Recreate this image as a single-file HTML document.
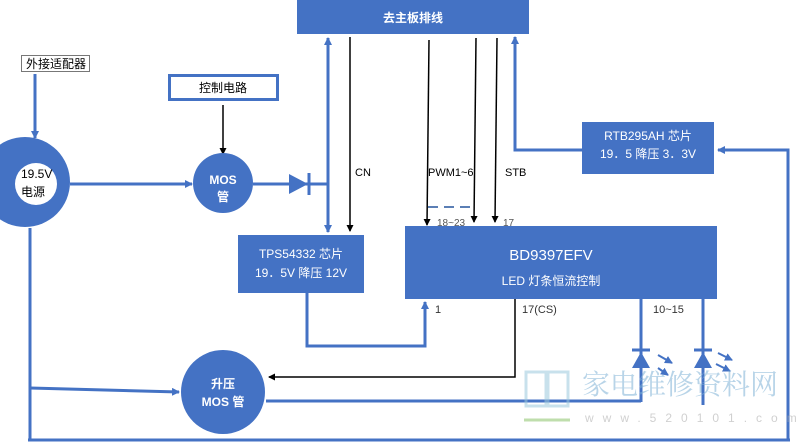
<!DOCTYPE html>
<html><head><meta charset="utf-8"><style>
body{margin:0;background:#fff;}
svg{display:block;font-family:"Liberation Sans","Noto Sans CJK SC",sans-serif;}
</style></head><body>
<svg width="800" height="445" viewBox="0 0 800 445" xmlns="http://www.w3.org/2000/svg">
<defs>
<marker id="ab" markerWidth="8" markerHeight="8" refX="7" refY="4" orient="auto" markerUnits="userSpaceOnUse"><path d="M0,0 L8,4 L0,8 z" fill="#4472C4"/></marker>
<marker id="ak" markerWidth="7" markerHeight="7" refX="6" refY="3.5" orient="auto" markerUnits="userSpaceOnUse"><path d="M0,0 L7,3.5 L0,7 z" fill="#000"/></marker>
</defs>
<g stroke="#4472C4" stroke-width="3" fill="none">
<!-- adapter to power -->
<line x1="35" y1="74" x2="35" y2="138" marker-end="url(#ab)"/>
<line x1="70" y1="184" x2="192" y2="184" marker-end="url(#ab)"/>
<line x1="253" y1="184" x2="328" y2="184"/>
<line x1="328" y1="232" x2="328" y2="38" marker-end="url(#ab)"/>
<line x1="328" y1="190" x2="328" y2="232" marker-end="url(#ab)"/>
<!-- TPS to pin1 -->
<polyline points="307,293 307,346 425,346 425,302" marker-end="url(#ab)"/>
<!-- STB 3.3V -->
<polyline points="583,150 515,150 515,37" marker-end="url(#ab)"/>
<polyline points="788,440 788,150 718,150" marker-end="url(#ab)"/>
<!-- left rail -->
<line x1="30" y1="228" x2="30" y2="440"/>
<line x1="28" y1="440" x2="790" y2="440"/>
<line x1="30" y1="388" x2="179" y2="392" marker-end="url(#ab)"/>
<line x1="266" y1="401" x2="641" y2="401"/>
<line x1="641" y1="299" x2="641" y2="402"/>
<line x1="703" y1="299" x2="703" y2="405"/>
<line x1="632" y1="350" x2="650" y2="350"/>
<line x1="694" y1="350" x2="712" y2="350"/>
<line x1="658" y1="355" x2="672" y2="363" stroke-width="2" marker-end="url(#ab)"/>
<line x1="658" y1="368" x2="668" y2="375" stroke-width="2" marker-end="url(#ab)"/>
<line x1="718" y1="353" x2="732" y2="360" stroke-width="2" marker-end="url(#ab)"/>
<line x1="716" y1="364" x2="730" y2="371" stroke-width="2" marker-end="url(#ab)"/>
<line x1="428" y1="207" x2="472" y2="207" stroke="#5b7fb5" stroke-width="2" stroke-dasharray="10,6"/>
</g>
<path d="M632,368 L641,352 L650,368 z M694,368 L703,352 L712,368 z" fill="#4472C4"/>
<path d="M289,174 L308,184 L289,194 z" fill="#4472C4"/>
<line x1="309" y1="173" x2="309" y2="195" stroke="#4472C4" stroke-width="3"/>
<!-- black lines -->
<g stroke="#000" stroke-width="1.5" fill="none">
<line x1="223" y1="105" x2="223" y2="154" marker-end="url(#ak)"/>
<line x1="350" y1="37" x2="350" y2="231" marker-end="url(#ak)"/>
<line x1="429" y1="40" x2="427" y2="225" marker-end="url(#ak)"/>
<line x1="476" y1="38" x2="474" y2="222" marker-end="url(#ak)"/>
<line x1="497" y1="38" x2="495" y2="222" marker-end="url(#ak)"/>
<polyline points="515,299 515,377 269,377" marker-end="url(#ak)"/>
</g>
<!-- boxes -->
<rect x="297" y="0" width="232" height="34" fill="#4472C4"/>
<text x="413" y="22" fill="#fff" font-size="12" font-weight="bold" text-anchor="middle">去主板排线</text>
<rect x="21.5" y="55.5" width="68" height="16" fill="#fff" stroke="#777"/>
<text x="26" y="68" font-size="12" fill="#000">外接适配器</text>
<rect x="169.5" y="75.5" width="108" height="24" fill="#fff" stroke="#4472C4" stroke-width="3"/>
<text x="223" y="92" font-size="12" fill="#000" text-anchor="middle">控制电路</text>
<circle cx="25" cy="182" r="45" fill="#4472C4"/>
<circle cx="36" cy="184" r="21" fill="#fff"/>
<text x="21" y="178" font-size="12" fill="#000">19.5V</text>
<text x="21" y="196" font-size="12" fill="#000">电源</text>
<circle cx="223" cy="183" r="30" fill="#4472C4"/>
<text x="223" y="184" font-size="12" fill="#fff" text-anchor="middle" font-weight="bold">MOS</text>
<text x="223" y="201" font-size="12" fill="#fff" text-anchor="middle" font-weight="bold">管</text>
<rect x="238" y="235" width="126" height="58" fill="#4472C4"/>
<text x="301" y="258" font-size="12" fill="#fff" text-anchor="middle">TPS54332 芯片</text>
<text x="301" y="277" font-size="12" fill="#fff" text-anchor="middle">19．5V 降压 12V</text>
<rect x="405" y="226" width="312" height="73" fill="#4472C4"/>
<text x="551" y="260" font-size="15" fill="#fff" text-anchor="middle">BD9397EFV</text>
<text x="551" y="285" font-size="12" fill="#fff" text-anchor="middle">LED 灯条恒流控制</text>
<rect x="582" y="122" width="132" height="52" fill="#4472C4"/>
<text x="648" y="140" font-size="12" fill="#fff" text-anchor="middle">RTB295AH 芯片</text>
<text x="648" y="158" font-size="12" fill="#fff" text-anchor="middle">19．5 降压 3．3V</text>
<circle cx="223" cy="392" r="42" fill="#4472C4"/>
<text x="223" y="388" font-size="12" fill="#fff" text-anchor="middle" font-weight="bold">升压</text>
<text x="223" y="406" font-size="12" fill="#fff" text-anchor="middle" font-weight="bold">MOS 管</text>
<!-- labels -->
<g font-size="11" fill="#000">
<text x="355" y="176">CN</text>
<text x="428" y="176">PWM1~6</text>
<text x="505" y="176">STB</text>
<text x="437" y="226" fill="#555" font-size="10">18~23</text>
<text x="503" y="226" fill="#555" font-size="10">17</text>
<text x="435" y="313" fill="#333">1</text>
<text x="522" y="313" fill="#333">17(CS)</text>
<text x="653" y="313" fill="#333">10~15</text>
</g>
<!-- watermark logo -->
<g opacity="0.55">
<rect x="526" y="372" width="20" height="34" fill="none" stroke="#9cc9dd" stroke-width="3"/>
<rect x="548" y="372" width="20" height="34" fill="none" stroke="#9cc9dd" stroke-width="3"/>
<line x1="524" y1="420" x2="570" y2="420" stroke="#8cc46a" stroke-width="3"/>
<text x="582" y="394" font-size="28" fill="#7fb2d6" font-family="'Noto Serif CJK SC',serif">家电维修资料网</text>
<text x="585" y="422" font-size="12" fill="#aaa" letter-spacing="9">www.520101.com</text>
</g>
</svg>
</body></html>
